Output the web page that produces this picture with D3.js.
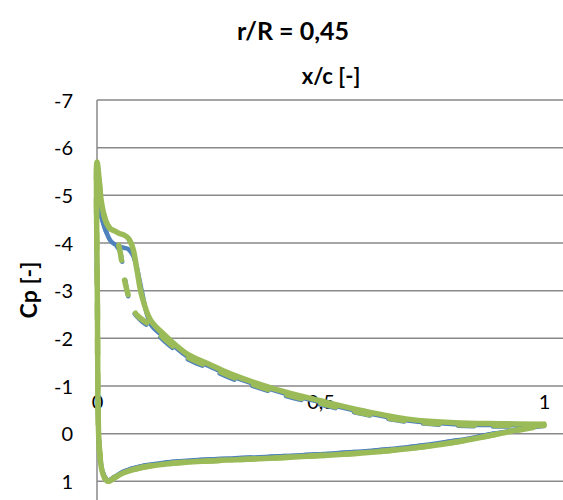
<!DOCTYPE html>
<html>
<head>
<meta charset="utf-8">
<script src="https://cdn.jsdelivr.net/npm/d3@7"></script>
<style>
  html, body { margin: 0; padding: 0; background: #fff; }
  svg { display: block; font-family: Lato, "Liberation Sans", sans-serif; }
</style>
</head>
<body>
<svg id="chart" width="563" height="500"></svg>
<script>
// ---- data ----
const title = "r/R = 0,45";
const xTitle = "x/c [-]";
const yTitle = "Cp [-]";
const yTicks = [-7, -6, -5, -4, -3, -2, -1, 0, 1];
const xTicks = [0, 0.5, 1];
const xTickLabels = ["0", "0,5", "1"];

// upper (suction) surface, x/c stations
const xUpper = [0, 0.002, 0.005, 0.01, 0.02, 0.03, 0.04, 0.05, 0.06, 0.07, 0.08, 0.09, 0.1, 0.12, 0.15, 0.2, 0.25, 0.3, 0.4, 0.5, 0.6, 0.7, 0.8, 0.9, 1.0];
const cpUpperBlueSolid  = [-5.0, -4.9, -4.75, -4.55, -4.25, -4.05, -3.97, -3.93, -3.9, -3.87, -3.75, -3.45, -3.0, -2.3, -2.03, -1.63, -1.42, -1.21, -0.9, -0.66, -0.44, -0.27, -0.2, -0.18, -0.17];
const cpUpperBlueDashed = [-5.0, -4.9, -4.75, -4.55, -4.25, -4.05, -3.97, -3.85, -3.4, -2.87, -2.58, -2.45, -2.36, -2.22, -1.95, -1.58, -1.37, -1.16, -0.85, -0.61, -0.4, -0.24, -0.17, -0.15, -0.16];
const cpUpperGreenSolid = [-5.7, -5.6, -5.3, -4.85, -4.45, -4.3, -4.25, -4.2, -4.17, -4.1, -3.9, -3.4, -2.9, -2.38, -2.08, -1.68, -1.46, -1.25, -0.93, -0.69, -0.47, -0.3, -0.23, -0.21, -0.2];
const cpUpperGreenDashed= [-5.7, -5.6, -5.3, -4.85, -4.45, -4.28, -4.18, -3.9, -3.3, -2.9, -2.62, -2.48, -2.4, -2.26, -2.0, -1.62, -1.41, -1.2, -0.88, -0.64, -0.42, -0.26, -0.19, -0.17, -0.17];

// lower (pressure) surface, x/c stations
const xLower = [0.001, 0.002, 0.004, 0.007, 0.011, 0.017, 0.025, 0.04, 0.06, 0.1, 0.15, 0.2, 0.3, 0.4, 0.5, 0.6, 0.7, 0.8, 0.9, 1.0];
const cpLowerBlueSolid  = [-2.5, -0.8, 0.08, 0.47, 0.74, 0.9, 0.98, 0.9, 0.79, 0.68, 0.61, 0.57, 0.52, 0.48, 0.43, 0.37, 0.28, 0.15, -0.02, -0.17];
const cpLowerBlueDashed = [-2.5, -0.8, 0.08, 0.47, 0.74, 0.9, 0.98, 0.9, 0.79, 0.68, 0.61, 0.57, 0.52, 0.48, 0.43, 0.37, 0.28, 0.15, -0.02, -0.16];
const cpLowerGreenSolid = [-2.5, -0.8, 0.1, 0.5, 0.77, 0.93, 1.0, 0.92, 0.82, 0.71, 0.64, 0.6, 0.55, 0.51, 0.46, 0.4, 0.31, 0.18, 0.0, -0.2];
const cpLowerGreenDashed= [-2.5, -0.8, 0.1, 0.5, 0.77, 0.93, 1.0, 0.92, 0.82, 0.71, 0.64, 0.6, 0.55, 0.51, 0.46, 0.4, 0.31, 0.18, 0.0, -0.17];

// ---- build ----
const series = [
  {name: "blueSolid",  up: cpUpperBlueSolid,  lo: cpLowerBlueSolid,  color: "#4F81BD", width: 4.5, dash: null},
  {name: "blueDashed", up: cpUpperBlueDashed, lo: cpLowerBlueDashed, color: "#4F81BD", width: 4.5, dash: "16,19"},
  {name: "greenSolid", up: cpUpperGreenSolid, lo: cpLowerGreenSolid, color: "#9BBB59", width: 5.5, dash: null},
  {name: "greenDashed",up: cpUpperGreenDashed,lo: cpLowerGreenDashed,color: "#9BBB59", width: 5.5, dash: "15,20"}
];

const svg = d3.select("#chart");
const W = 563, H = 500;

const x = d3.scaleLinear().domain([0, 1]).range([97, 544]);
const y = d3.scaleLinear().domain([-7, 1.4]).range([100, 500.4]);

// gridlines
svg.append("g").selectAll("line").data(yTicks).join("line")
  .attr("x1", x(0)).attr("x2", W)
  .attr("y1", d => y(d)).attr("y2", d => y(d))
  .attr("stroke", "#898989").attr("stroke-width", 1.5);

// y axis line
svg.append("line")
  .attr("x1", x(0)).attr("x2", x(0))
  .attr("y1", y(-7)).attr("y2", H)
  .attr("stroke", "#898989").attr("stroke-width", 1.5);

// y tick labels
const yAxis = d3.axisLeft(y).tickValues(yTicks).tickSize(0).tickPadding(0).tickFormat(d => String(d));
const gy = svg.append("g").attr("transform", "translate(73,0)").call(yAxis);
gy.select(".domain").remove();
gy.selectAll("text").attr("font-size", 20).attr("fill", "#000").attr("font-family", "Lato, sans-serif").attr("dy", "0.35em");

// x tick labels
const xAxis = d3.axisBottom(x).tickValues(xTicks).tickSize(0).tickPadding(0).tickFormat((d, i) => xTickLabels[i]);
const gx = svg.append("g").attr("transform", `translate(0,${y(-1)})`).call(xAxis);
gx.select(".domain").remove();
gx.selectAll("text").attr("font-size", 20).attr("fill", "#000").attr("font-family", "Lato, sans-serif").attr("dy", "0").attr("y", 23);

// lines
const line = d3.line().x(d => x(d[0])).y(d => y(d[1])).curve(d3.curveCatmullRom.alpha(0.5));
series.forEach(s => {
  const pts = [];
  for (let i = xUpper.length - 1; i >= 0; i--) pts.push([xUpper[i], s.up[i]]);
  for (let i = 0; i < xLower.length; i++) pts.push([xLower[i], s.lo[i]]);
  const p = svg.append("path").datum(pts)
    .attr("d", line)
    .attr("fill", "none")
    .attr("stroke", s.color)
    .attr("stroke-width", s.width)
    .attr("stroke-linejoin", "round")
    .attr("stroke-linecap", "round");
  if (s.dash) p.attr("stroke-dasharray", s.dash);
});

// titles
svg.append("text").attr("x", 293).attr("y", 40).attr("text-anchor", "middle")
  .attr("font-size", 25).attr("font-weight", "bold").text(title);
svg.append("text").attr("x", 331).attr("y", 84).attr("text-anchor", "middle")
  .attr("font-size", 22).attr("font-weight", "bold").text(xTitle);
svg.append("text").attr("transform", "translate(37,290) rotate(-90)").attr("text-anchor", "middle")
  .attr("font-size", 23).attr("font-weight", "bold").text(yTitle);
</script>
</body>
</html>
